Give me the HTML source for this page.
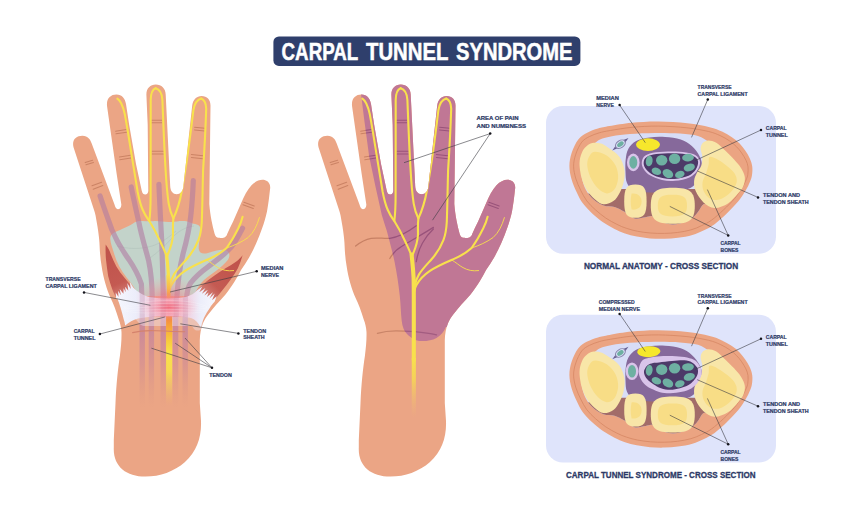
<!DOCTYPE html>
<html lang="en">
<head>
<meta charset="utf-8">
<title>Carpal Tunnel Syndrome</title>
<style>
html,body{margin:0;padding:0;background:#ffffff;}
body{width:854px;height:514px;overflow:hidden;font-family:"Liberation Sans",sans-serif;}
svg{display:block;}
svg text{font-family:"Liberation Sans",sans-serif;font-weight:bold;}
</style>
</head>
<body>
<svg width="854" height="514" viewBox="0 0 854 514">
<defs>

<path id="hand" d="M113.8 440 L115.5 403 C116.2 385 118 368 119.9 356 C121 347 121.7 340 121.5 332 C121.2 327 120.2 323.4 118.9 320 C117.6 316 116.2 311.6 114.8 307.7 C113.4 304.2 112 301 110.5 297.8 C108.6 293.4 106.8 288.8 105.5 284 C103.8 278 102.4 272 101.6 266 C100.6 260.6 100.2 255.4 99.8 250 C99.6 245 99.4 240.6 98.8 236 C98.4 232.6 98 229.4 97.4 226 C96.8 222.6 96.4 220.2 96 218 C95.5 215 95 213 94.2 210.6 L73.6 147.5 C71.5 140 76 135.6 82.5 135.7 C88 135.8 90.3 139.5 91.6 143.3 L114.4 204.3 C115.4 207.6 116.4 209.2 117.9 209.2 C119.6 209.2 121.6 207.6 121.3 204.3 L116.6 173.6 L107.1 106.5 C106 98.5 110.5 94.4 116.4 94.4 C122 94.4 125.2 98.6 126 104 L129.2 125 L136 163.9 L141.7 190.6 C142.4 193.6 143.6 194.6 145.2 194.6 C147 194.6 148.4 193.2 148.3 190.6 L147.7 125 L146.4 95 C146.2 88.5 150.2 84.6 155.8 84.6 C161.5 84.6 165.5 88.5 165.7 94.5 L170.2 186 C170.4 191.2 173 194.2 176.7 194.2 C180.3 194.2 182.8 191.5 183.3 187 L192.2 105.5 C193 99.5 196.6 95.9 201.6 95.9 C207 95.9 210.5 99.6 210.5 105.5 L209.3 204 C209.8 210 210.6 215.6 211.5 220.4 C212.4 225 213.4 229.6 214.6 233.7 C215.4 236.4 216.6 237.6 218.6 237.8 C220.6 238 222.6 237.9 224.4 237.4 C226 236.8 226.8 235.4 227.3 233.7 C229 229.6 231 225.6 233 221.7 L241 203.6 C244 196 247.4 190 251.5 185.3 C256 180.6 261 178.9 265.2 180.2 C269.4 181.6 270.8 185 270 189.6 C269.2 197 268.4 204 267 211.4 C265.6 217.6 264 223 262.3 227.8 C260.4 233.4 258.4 238.6 256.1 243.5 C254 248.4 251.6 253 249.1 257.5 C246.6 261.8 244 265.8 241.2 269.8 C239 273.8 237 277.6 234.6 281.4 C231.6 286 228.6 290.6 225.5 294.6 C222.6 298 219.6 301.2 216.4 304.5 C213.6 307.8 210.8 311 208.2 314.5 C206.2 317.2 204.4 320 203.2 322.7 C202 325.6 201.2 328.2 200.7 331 C200.2 334 199.8 337 199.8 340 L199.8 403 L201 421 C201.6 437 197 451 185 462 C174 471.6 160 476.6 145.4 476.6 C126 476.6 113 466 113.8 447.6 Z"/>
<clipPath id="handclip"><use href="#hand"/></clipPath>
<clipPath id="handclip2"><use href="#hand" transform="translate(245,0)"/></clipPath>
<linearGradient id="tfade" x1="0" y1="298" x2="0" y2="408" gradientUnits="userSpaceOnUse">
 <stop offset="0" stop-color="#b27aa8" stop-opacity="0.7"/><stop offset="0.3" stop-color="#b87aa4" stop-opacity="0.62"/><stop offset="0.6" stop-color="#c4809c" stop-opacity="0.42"/><stop offset="1" stop-color="#d6907f" stop-opacity="0"/>
</linearGradient>
<linearGradient id="nfade" x1="0" y1="314" x2="0" y2="406" gradientUnits="userSpaceOnUse">
 <stop offset="0" stop-color="#f2784e"/><stop offset="0.12" stop-color="#f7a03a"/><stop offset="0.28" stop-color="#f8c83c"/><stop offset="0.42" stop-color="#f9e248"/><stop offset="0.62" stop-color="#f8dc50" stop-opacity="0.95"/><stop offset="0.8" stop-color="#f3c866" stop-opacity="0.6"/><stop offset="1" stop-color="#f0b070" stop-opacity="0"/>
</linearGradient>
<linearGradient id="ngrad" x1="0" y1="274" x2="0" y2="300" gradientUnits="userSpaceOnUse">
 <stop offset="0" stop-color="#f8e14c"/><stop offset="0.55" stop-color="#f9b94a"/><stop offset="1" stop-color="#f47a62"/>
</linearGradient>
<radialGradient id="glow1" cx="0.5" cy="0.5" r="0.5">
 <stop offset="0" stop-color="#f3606e" stop-opacity="0.75"/><stop offset="0.5" stop-color="#f28a92" stop-opacity="0.4"/><stop offset="1" stop-color="#f5a8a8" stop-opacity="0"/>
</radialGradient>
<radialGradient id="glow2" cx="0.5" cy="0.5" r="0.5">
 <stop offset="0" stop-color="#f0566a" stop-opacity="0.75"/><stop offset="0.5" stop-color="#f48ea0" stop-opacity="0.45"/><stop offset="1" stop-color="#f6b6c6" stop-opacity="0"/>
</radialGradient>
<linearGradient id="lig" x1="116" y1="0" x2="215" y2="0" gradientUnits="userSpaceOnUse">
 <stop offset="0" stop-color="#f6f7fe"/><stop offset="0.2" stop-color="#ecedfa"/><stop offset="0.37" stop-color="#f1cbdc"/><stop offset="0.53" stop-color="#f5a9ba"/><stop offset="0.69" stop-color="#f1cbdc"/><stop offset="0.85" stop-color="#ecedfa"/><stop offset="1" stop-color="#f6f7fe"/>
</linearGradient>
<linearGradient id="musL" x1="106" y1="248" x2="126" y2="294" gradientUnits="userSpaceOnUse">
 <stop offset="0" stop-color="#bf524b"/><stop offset="0.75" stop-color="#c45a52"/><stop offset="1" stop-color="#d27c72"/>
</linearGradient>
<linearGradient id="musR" x1="241" y1="258" x2="206" y2="294" gradientUnits="userSpaceOnUse">
 <stop offset="0" stop-color="#bf524b"/><stop offset="0.75" stop-color="#c45a52"/><stop offset="1" stop-color="#d27c72"/>
</linearGradient>

<linearGradient id="nfade2" x1="0" y1="358" x2="0" y2="418" gradientUnits="userSpaceOnUse">
 <stop offset="0" stop-color="#f8e14c"/><stop offset="0.35" stop-color="#f6d654" stop-opacity="0.9"/><stop offset="1" stop-color="#f0b878" stop-opacity="0"/>
</linearGradient>

</defs>
<rect width="854" height="514" fill="#ffffff"/>
<!-- title -->
<rect x="273.4" y="36.4" width="307" height="29.5" rx="5.5" fill="#2f3f6c"/>
<text x="281.6" y="59.5" font-size="23" textLength="76.6" lengthAdjust="spacingAndGlyphs" fill="#ffffff" stroke="#ffffff" stroke-width="0.5">CARPAL</text>
<text x="366" y="59.5" font-size="23" textLength="82.4" lengthAdjust="spacingAndGlyphs" fill="#ffffff" stroke="#ffffff" stroke-width="0.5">TUNNEL</text>
<text x="456" y="59.5" font-size="23" textLength="116.5" lengthAdjust="spacingAndGlyphs" fill="#ffffff" stroke="#ffffff" stroke-width="0.5">SYNDROME</text>
<!-- left hand -->
<use href="#hand" fill="#eba585"/>
<g clip-path="url(#handclip)">
<path d="M85.2 162.6 L92.6 160.2 M86.0 164.79999999999998 L93.39999999999999 162.39999999999998 M92.0 185.8 L101.6 182.2 M93.2 189.20000000000002 L102.8 185.6 M115.6 131.2 L126.2 129.6 M116.0 133.79999999999998 L126.60000000000001 132.2 M119.4 157.0 L130.6 155.2 M119.80000000000001 159.8 L131.0 158.0 M151.0 120.2 L161.8 120.2 M151.0 122.8 L161.8 122.8 M152.0 151.2 L163.4 151.2 M152.0 154.0 L163.4 154.0 M194.6 127.2 L204.6 128.2 M194.6 129.9 L204.6 130.89999999999998 M191.4 154.6 L203.0 155.8 M191.4 157.6 L203.0 158.8 M243.9 202.2 L254.2 206.0 M243.0 204.7 L253.29999999999998 208.5" fill="none" stroke="#cb8365" stroke-width="1.05" stroke-linecap="round" opacity="1"/>
<path d="M133 223.5 C138 219 146 221.8 153 221.2 C160 220.6 164 222.6 171 222 C178 221.4 184 219.8 190 222.4 C195 224.5 199.6 223.6 200.6 228.4 C201.2 235 198.2 243 198.8 249 C199.2 253.4 203 254.4 208 253 C215 251 222 248.6 226.4 250.4 C230 252.2 230.4 256.6 227.4 260.4 C221 268 211 274 204 280 C199.6 284 196.6 289 194 296 L138 296 C136.4 290 132 284 127 278 C121 270.4 116.4 262 114.2 254 C112.4 247.4 109.6 241.4 110.4 237 C111.6 232.4 117 231.6 122 229 C127 226.6 129.6 226 133 223.5 Z" fill="#c3d3ca"/>
<path d="M117 246 C128 249 140 249.6 152 246 C160 243.6 168 238 176 231" fill="none" stroke="#a9bcb4" stroke-width="0.5" opacity="0.8"/>
<path d="M150 258 C158 252 165 246 172 238 C178 231 186 227 194 226" fill="none" stroke="#a9bcb4" stroke-width="0.5" opacity="0.8"/>
<path d="M100.1 196 C104 208 108 219 111.8 229.5 C116.5 241 122 250 128.6 259.1 C134 267 138.5 275 141.4 284 L142 300" fill="none" stroke="#b17ba1" stroke-opacity="0.6" stroke-width="5.2" stroke-linecap="round" stroke-linejoin="round"/>
<path d="M131.2 187 C134 201 137.5 216 140.4 229.5 C143.5 243 146.5 252 148.7 261 C150.6 270 152.2 281 152.2 300" fill="none" stroke="#b17ba1" stroke-opacity="0.6" stroke-width="5.2" stroke-linecap="round" stroke-linejoin="round"/>
<path d="M158.9 184.4 C159.6 200 160.4 218 161.4 234.7 C162.2 255 163 275 163.3 300" fill="none" stroke="#b17ba1" stroke-opacity="0.6" stroke-width="5.2" stroke-linecap="round" stroke-linejoin="round"/>
<path d="M193.3 180.6 C192.8 193 192 205 190.7 216.6 C189 231 186 243 183.4 252.4 C180.6 263 178 278 176.7 300" fill="none" stroke="#b17ba1" stroke-opacity="0.6" stroke-width="5.2" stroke-linecap="round" stroke-linejoin="round"/>
<path d="M242.5 228.2 C239 235 235.4 241.6 230.8 247.6 C224.6 254.4 216.5 260.5 209.2 265.8 C201.6 271.4 195 277 190.6 283 C187.6 287.6 186.6 293 186.6 300" fill="none" stroke="#b17ba1" stroke-opacity="0.6" stroke-width="5.2" stroke-linecap="round" stroke-linejoin="round"/>
<rect x="139.5" y="298" width="5.4" height="112" fill="url(#tfade)"/>
<rect x="148.70000000000002" y="298" width="5.4" height="112" fill="url(#tfade)"/>
<rect x="160.5" y="298" width="5.4" height="112" fill="url(#tfade)"/>
<rect x="172.9" y="298" width="5.4" height="112" fill="url(#tfade)"/>
<rect x="182.5" y="298" width="5.4" height="112" fill="url(#tfade)"/>
<path d="M105.7 244.6 C105.4 250 105.6 255 106 259.8 C106.6 265.6 107.4 271 108.2 276.3 C109.4 281 110.8 285.4 112.3 289.5 C113.4 292.2 114.4 294.6 115.6 297 L124 301 L134.4 292 L132.1 286.2 C129.4 283.6 127 280.8 124.7 278 C121.6 274.2 118.8 270.4 116.4 266.4 C113.8 261.6 111.6 256.6 109.8 251.5 C108.4 248.6 107 246.4 105.7 244.6 Z" fill="url(#musL)"/>
<path d="M242.6 255.3 C241.4 259.8 239.8 264 237.9 268.2 C235.6 272.4 233.2 276.2 230.5 279.8 C227.8 283.6 225 287.2 222.2 290.5 C219.8 293.6 217.4 296.6 214.8 299.6 L206 303 L195.6 292 L197.4 289.7 C199 288 200.6 286.2 202.4 284.7 C205.8 281.8 209.4 279 213.1 276.4 C217 273.6 221.4 271 225.5 268.2 C229.4 266 233 264 236.3 261.6 C238.6 259.8 240.8 257.6 242.6 255.3 Z" fill="url(#musR)"/>
<path d="M226.6 248 C234 245.6 242 242 248 237.6 C253.6 232.8 257 225.6 259.4 217.6" fill="none" stroke="#f8e14c" stroke-width="0.9" stroke-linecap="round"/>
<path d="M206.8 260 C211 262.4 214 265.4 218 267.6 C222.6 270.2 227.6 271.4 233.6 270.6" fill="none" stroke="#f8e14c" stroke-width="0.9" stroke-linecap="round"/>
<path d="M117.4 98.6 C120.6 100.6 122.8 105.4 124.7 113.8 C127.6 129 130 145 132.5 160.4 C134.4 172 136 182 137.6 191.5 C139.2 200 141 206 142.8 210 C145.2 215.6 147.6 218.6 149.3 221 C153 226.8 156.6 233.6 160 241 C163 247.6 165.6 252.6 166.6 256.4" fill="none" stroke="#f8e14c" stroke-width="2.1" stroke-linecap="round" stroke-linejoin="round"/>
<path d="M155.6 88.2 C152.2 89.4 150.8 93.4 150.7 100 C150.7 132 150.6 165 150.6 196 C150.6 207 150.2 214 149.3 221" fill="none" stroke="#f8e14c" stroke-width="2.1" stroke-linecap="round" stroke-linejoin="round"/>
<path d="M155.6 88.2 C159.6 89.2 162 93.4 162.4 100 C163.4 124 164.2 148 165.6 170 C166.4 184 167.4 195 168.7 203.6 C169.8 210 171.4 214.6 173.4 218.4" fill="none" stroke="#f8e14c" stroke-width="2.1" stroke-linecap="round" stroke-linejoin="round"/>
<path d="M201.2 98.6 C197.2 99.8 194.6 103.4 193.4 110 C191.4 127 189.2 144 186.8 160.4 C185.2 171 183.6 181 181.8 191 C180 201 177 210.6 173.4 218.4 C172.6 225 173 229.6 173 234.7 C172.6 241 170.6 247.6 168.4 252.8 C167.2 255.4 166.8 256.4 166.6 258" fill="none" stroke="#f8e14c" stroke-width="2.1" stroke-linecap="round" stroke-linejoin="round"/>
<path d="M201.2 98.6 C204.4 99.8 206 103.6 206.2 108.6 C205.6 129 204.4 150 203.1 170 C202.6 188 202.4 206 201.8 221.8 C201.4 229 200.4 235 198.5 239.9 C195.6 247.6 191.6 253.6 186.8 259 C182 264.4 177 269.4 173.9 274.6 C171.6 278.4 170.4 282 169.6 286" fill="none" stroke="#f8e14c" stroke-width="2.1" stroke-linecap="round" stroke-linejoin="round"/>
<path d="M242.6 216.8 C241.4 221.6 240.2 224.6 238.6 227.6 C235 235 231 242 226.6 248 C221 253 214.6 256.6 208 259.4 C199.6 263 191.6 266.4 184.6 271.2 C179.6 274.6 174.6 279.6 171.6 284.6 C170.4 286.6 169.8 288.6 169.4 291" fill="none" stroke="#f8e14c" stroke-width="2.1" stroke-linecap="round" stroke-linejoin="round"/>
<path d="M166.6 254.6 C167.4 262 168.2 270 168.6 278 C168.8 286 168.8 294 168.8 302" fill="none" stroke="#f8e14c" stroke-width="3.2" stroke-linecap="round"/>
<ellipse cx="168.6" cy="300" rx="34" ry="24" fill="url(#glow1)"/>
<path d="M168.0 276 C168.5 284 168.7 292 168.7 300" fill="none" stroke="url(#ngrad)" stroke-width="3.4" stroke-linecap="round"/>
<path d="M134 317 L201.5 317 C203 322 203.4 326.4 201.4 329 C199.4 331.4 195.6 331 193.6 328.4 C192.6 326.8 192 326 190.6 326 L146 326 C143 326 141 325.2 139.4 323.4 C138 321.8 136 320 134 317 Z" fill="#efe6f4" opacity="0.42"/>
<rect x="166.1" y="312" width="6" height="96" fill="url(#nfade)"/>
<path d="M132.6 332.6 C140 330.8 148 330.4 156 330.8 C166 331.2 176 331.6 184.6 331.8" fill="none" stroke="#d5826c" stroke-width="1.1" stroke-linecap="round"/>
<path d="M116.0 298.4 L115.7 292.6 L118.5 296.9 L118.1 290.7 L120.9 295.3 L119.7 289.0 L123.4 293.8 L123.6 288.3 L125.8 292.2 L125.1 286.7 L128.3 290.7 L127.3 283.1 L130.7 289.1 L129.9 282.0 L133.2 287.6 C137 291.6 143 295.6 150 297.2 C156 298.2 162 298.4 168.8 298.4 C176 298.4 182 298.2 186.6 296.8 C191 295.6 194.4 293.4 196.8 290.6 L202.3 286.6 L199.3 292.2 L205.4 288.0 L201.9 293.8 L207.8 289.7 L204.4 295.4 L208.6 292.5 L207.0 297.0 L212.9 292.3 L209.5 298.6 L214.7 293.5 L212.1 300.2 L216.7 296.2 L214.6 301.8 C213 303.2 211.4 305.6 209.8 307.9 C207.6 311 205.6 314.4 204 317.8 C202.6 321 201.4 324.4 200.7 327.7 C198.6 323 195.6 319.6 191 318 C184 316.4 176 316.2 168.9 316.2 C158 316.2 146 316.6 138 318.6 C133 320 129 322.4 125.2 325.4 C124.8 323 124.4 321.4 123.9 320 C122.8 315.6 121.8 311.6 120.6 307.7 C119.6 304.4 118.4 301.4 117.3 298.6 Z" fill="url(#lig)"/>
<clipPath id="ligclip"><path d="M116.0 298.4 L115.7 292.6 L118.5 296.9 L118.1 290.7 L120.9 295.3 L119.7 289.0 L123.4 293.8 L123.6 288.3 L125.8 292.2 L125.1 286.7 L128.3 290.7 L127.3 283.1 L130.7 289.1 L129.9 282.0 L133.2 287.6 C137 291.6 143 295.6 150 297.2 C156 298.2 162 298.4 168.8 298.4 C176 298.4 182 298.2 186.6 296.8 C191 295.6 194.4 293.4 196.8 290.6 L202.3 286.6 L199.3 292.2 L205.4 288.0 L201.9 293.8 L207.8 289.7 L204.4 295.4 L208.6 292.5 L207.0 297.0 L212.9 292.3 L209.5 298.6 L214.7 293.5 L212.1 300.2 L216.7 296.2 L214.6 301.8 C213 303.2 211.4 305.6 209.8 307.9 C207.6 311 205.6 314.4 204 317.8 C202.6 321 201.4 324.4 200.7 327.7 C198.6 323 195.6 319.6 191 318 C184 316.4 176 316.2 168.9 316.2 C158 316.2 146 316.6 138 318.6 C133 320 129 322.4 125.2 325.4 C124.8 323 124.4 321.4 123.9 320 C122.8 315.6 121.8 311.6 120.6 307.7 C119.6 304.4 118.4 301.4 117.3 298.6 Z"/></clipPath>
<g clip-path="url(#ligclip)" opacity="0.2"><rect x="139.6" y="284" width="5.2" height="46" fill="#a0608c"/><rect x="149.20000000000002" y="284" width="5.2" height="46" fill="#a0608c"/><rect x="160.6" y="284" width="5.2" height="46" fill="#a0608c"/><rect x="173.6" y="284" width="5.2" height="46" fill="#a0608c"/><rect x="182.8" y="284" width="5.2" height="46" fill="#a0608c"/></g>
<ellipse cx="168.8" cy="307" rx="30" ry="13" fill="url(#glow2)"/>
<path d="M124 306.6 C140 302.1 150 300.6 168.8 300.6 C186 300.6 196 302.1 207 306.6" fill="none" stroke="#ffffff" stroke-width="0.5" opacity="0.45"/>
<path d="M124 307.59999999999997 C140 304.9 150 303.4 168.8 303.4 C186 303.4 196 304.9 207 307.59999999999997" fill="none" stroke="#ffffff" stroke-width="0.5" opacity="0.45"/>
<path d="M124 308.79999999999995 C140 307.9 150 306.4 168.8 306.4 C186 306.4 196 307.9 207 308.79999999999995" fill="none" stroke="#ffffff" stroke-width="0.5" opacity="0.45"/>
<path d="M124 310.0 C140 310.9 150 309.4 168.8 309.4 C186 309.4 196 310.9 207 310.0" fill="none" stroke="#ffffff" stroke-width="0.5" opacity="0.45"/>
<path d="M124 310.8 C140 314.1 150 312.6 168.8 312.6 C186 312.6 196 314.1 207 310.8" fill="none" stroke="#ffffff" stroke-width="0.5" opacity="0.45"/>
</g>
<!-- middle hand -->
<use href="#hand" transform="translate(245,0)" fill="#eba585"/>
<g clip-path="url(#handclip2)">
<g transform="translate(245,0)"><path d="M85.2 162.6 L92.6 160.2 M86.0 164.79999999999998 L93.39999999999999 162.39999999999998 M92.0 185.8 L101.6 182.2 M93.2 189.20000000000002 L102.8 185.6 M115.6 131.2 L126.2 129.6 M116.0 133.79999999999998 L126.60000000000001 132.2 M119.4 157.0 L130.6 155.2 M119.80000000000001 159.8 L131.0 158.0 M151.0 120.2 L161.8 120.2 M151.0 122.8 L161.8 122.8 M152.0 151.2 L163.4 151.2 M152.0 154.0 L163.4 154.0 M194.6 127.2 L204.6 128.2 M194.6 129.9 L204.6 130.89999999999998 M191.4 154.6 L203.0 155.8 M191.4 157.6 L203.0 158.8 M243.9 202.2 L254.2 206.0 M243.0 204.7 L253.29999999999998 208.5" fill="none" stroke="#cb8365" stroke-width="1.05" stroke-linecap="round" opacity="1"/></g>
<path d="M355.6 246 C361 241.6 366 239.2 371.1 238.3 C378 237.4 384 238.8 389.8 238.3 C399 237.2 408 232 416.3 225.8" fill="none" stroke="#c78064" stroke-width="1.3" stroke-linecap="round"/>
<path d="M389.8 258.5 C393 253 397 249 402.3 246 C412 240 423 234 433.4 227.4" fill="none" stroke="#c78064" stroke-width="1.3" stroke-linecap="round"/>
<path d="M416.3 261.6 C417.6 254 419.6 248 422.5 243 C425.6 237.6 429 233 433.4 229" fill="none" stroke="#c78064" stroke-width="1.3" stroke-linecap="round"/>
<path d="M377.4 333.3 C383 331.6 389 330.8 396 330.8 C402 330.8 408 331.2 414.7 331.7 C422 332.4 430 333.4 436.5 334.8" fill="none" stroke="#c98468" stroke-width="1.3" stroke-linecap="round"/>
<clipPath id="purpclip"><path d="M360.8 92 L364 117.9 L369.1 155.9 L375.4 186.3 L381.8 215 C383.6 221 385.2 226 386.7 230.5 C389.6 241 392.4 252 394.5 261.6 C396.8 273 398.6 285 399.8 295.9 C400.8 305 400.8 313 401.7 320.8 C402.4 327 404 331 407 333.9 C411 338 416 341 421 341 C427 341.2 432 340.2 436.5 337.9 C441 335.4 444 331.6 445.9 327 L470 327 L530 260 L530 160 L480 80 L400 70 L360 80 Z"/></clipPath>
<g clip-path="url(#purpclip)">
<rect x="340" y="70" width="200" height="280" fill="#c07795"/>
<g transform="translate(245,0)"><path d="M85.2 162.6 L92.6 160.2 M86.0 164.79999999999998 L93.39999999999999 162.39999999999998 M92.0 185.8 L101.6 182.2 M93.2 189.20000000000002 L102.8 185.6 M115.6 131.2 L126.2 129.6 M116.0 133.79999999999998 L126.60000000000001 132.2 M119.4 157.0 L130.6 155.2 M119.80000000000001 159.8 L131.0 158.0 M151.0 120.2 L161.8 120.2 M151.0 122.8 L161.8 122.8 M152.0 151.2 L163.4 151.2 M152.0 154.0 L163.4 154.0 M194.6 127.2 L204.6 128.2 M194.6 129.9 L204.6 130.89999999999998 M191.4 154.6 L203.0 155.8 M191.4 157.6 L203.0 158.8 M243.9 202.2 L254.2 206.0 M243.0 204.7 L253.29999999999998 208.5" fill="none" stroke="#99537a" stroke-width="1.05" stroke-linecap="round" opacity="1"/></g>
<path d="M355.6 246 C361 241.6 366 239.2 371.1 238.3 C378 237.4 384 238.8 389.8 238.3 C399 237.2 408 232 416.3 225.8" fill="none" stroke="#99537b" stroke-width="1.3" stroke-linecap="round"/>
<path d="M389.8 258.5 C393 253 397 249 402.3 246 C412 240 423 234 433.4 227.4" fill="none" stroke="#99537b" stroke-width="1.3" stroke-linecap="round"/>
<path d="M416.3 261.6 C417.6 254 419.6 248 422.5 243 C425.6 237.6 429 233 433.4 229" fill="none" stroke="#99537b" stroke-width="1.3" stroke-linecap="round"/>
<path d="M377.4 333.3 C383 331.6 389 330.8 396 330.8 C402 330.8 408 331.2 414.7 331.7 C422 332.4 430 333.4 436.5 334.8" fill="none" stroke="#a25c80" stroke-width="1.3" stroke-linecap="round"/>
</g>
<g transform="translate(245,0)">
<path d="M226.6 248 C234 245.6 242 242 248 237.6 C253.6 232.8 257 225.6 259.4 217.6" fill="none" stroke="#f8e14c" stroke-width="0.9" stroke-linecap="round"/>
<path d="M206.8 260 C211 262.4 214 265.4 218 267.6 C222.6 270.2 227.6 271.4 233.6 270.6" fill="none" stroke="#f8e14c" stroke-width="0.9" stroke-linecap="round"/>
<path d="M117.4 98.6 C120.6 100.6 122.8 105.4 124.7 113.8 C127.6 129 130 145 132.5 160.4 C134.4 172 136 182 137.6 191.5 C139.2 200 141 206 142.8 210 C145.2 215.6 147.6 218.6 149.3 221 C153 226.8 156.6 233.6 160 241 C163 247.6 165.6 252.6 166.6 256.4" fill="none" stroke="#f8e14c" stroke-width="2.1" stroke-linecap="round" stroke-linejoin="round"/>
<path d="M155.6 88.2 C152.2 89.4 150.8 93.4 150.7 100 C150.7 132 150.6 165 150.6 196 C150.6 207 150.2 214 149.3 221" fill="none" stroke="#f8e14c" stroke-width="2.1" stroke-linecap="round" stroke-linejoin="round"/>
<path d="M155.6 88.2 C159.6 89.2 162 93.4 162.4 100 C163.4 124 164.2 148 165.6 170 C166.4 184 167.4 195 168.7 203.6 C169.8 210 171.4 214.6 173.4 218.4" fill="none" stroke="#f8e14c" stroke-width="2.1" stroke-linecap="round" stroke-linejoin="round"/>
<path d="M201.2 98.6 C197.2 99.8 194.6 103.4 193.4 110 C191.4 127 189.2 144 186.8 160.4 C185.2 171 183.6 181 181.8 191 C180 201 177 210.6 173.4 218.4 C172.6 225 173 229.6 173 234.7 C172.6 241 170.6 247.6 168.4 252.8 C167.2 255.4 166.8 256.4 166.6 258" fill="none" stroke="#f8e14c" stroke-width="2.1" stroke-linecap="round" stroke-linejoin="round"/>
<path d="M201.2 98.6 C204.4 99.8 206 103.6 206.2 108.6 C205.6 129 204.4 150 203.1 170 C202.6 188 202.4 206 201.8 221.8 C201.4 229 200.4 235 198.5 239.9 C195.6 247.6 191.6 253.6 186.8 259 C182 264.4 177 269.4 173.9 274.6 C171.6 278.4 170.4 282 169.6 286" fill="none" stroke="#f8e14c" stroke-width="2.1" stroke-linecap="round" stroke-linejoin="round"/>
<path d="M242.6 216.8 C241.4 221.6 240.2 224.6 238.6 227.6 C235 235 231 242 226.6 248 C221 253 214.6 256.6 208 259.4 C199.6 263 191.6 266.4 184.6 271.2 C179.6 274.6 174.6 279.6 171.6 284.6 C170.4 286.6 169.8 288.6 169.4 291" fill="none" stroke="#f8e14c" stroke-width="2.1" stroke-linecap="round" stroke-linejoin="round"/>
<path d="M166.6 254.6 C167.4 262 168.2 270 168.6 278 C168.8 286 168.8 294 168.8 302 L168.8 360" fill="none" stroke="#f8e14c" stroke-width="4.1" stroke-linecap="round"/>
<rect x="166.75" y="358" width="4.1" height="60" fill="url(#nfade2)"/>
</g>
</g>
<!-- cross sections -->
<g transform="translate(0,0)">
<rect x="546" y="106" width="230" height="147.7" rx="17" fill="#dfe4fb"/>
<path d="M569.4 166.2 C569.4 161.8 570.2 157.2 571.7 152.8 C573.2 148.4 575.7 142.8 578.3 139.5 C580.9 136.2 583.9 134.6 587.2 132.8 C590.5 131.0 594.3 129.7 598.0 128.6 C601.7 127.5 603.9 127.1 609.5 126.1 C615.1 125.1 623.6 123.6 631.7 122.8 C639.9 122.0 649.1 121.4 658.4 121.5 C667.7 121.6 678.9 122.3 687.4 123.3 C695.9 124.2 703.8 125.8 709.6 127.2 C715.4 128.6 718.3 129.9 722.0 131.6 C725.7 133.3 729.0 135.2 731.9 137.2 C734.8 139.2 737.4 141.4 739.6 143.6 C741.8 145.8 743.5 148.1 745.2 150.6 C746.9 153.1 748.6 155.8 749.8 158.4 C751.0 161.0 751.8 163.4 752.2 166.2 C752.6 169.0 752.4 172.4 752.0 175.0 C751.6 177.6 751.2 178.9 750.1 181.5 C749.0 184.1 747.5 187.5 745.5 190.8 C743.5 194.1 741.2 197.8 738.1 201.5 C735.0 205.2 730.9 209.5 727.0 213.3 C723.1 217.1 718.4 221.4 714.6 224.2 C710.8 227.0 707.7 228.4 704.0 230.2 C700.3 232.0 696.7 233.7 692.4 235.0 C688.1 236.3 682.6 237.2 678.0 237.8 C673.4 238.4 669.2 238.7 664.5 238.8 C659.8 238.9 654.6 238.8 650.0 238.4 C645.4 238.0 640.9 237.3 636.7 236.5 C632.5 235.7 628.7 234.7 625.0 233.4 C621.3 232.1 618.2 230.8 614.5 228.9 C610.8 227.0 606.7 224.8 603.0 222.2 C599.3 219.6 595.5 216.5 592.2 213.4 C588.9 210.3 585.6 207.1 583.0 203.6 C580.4 200.1 578.6 196.2 576.7 192.2 C574.8 188.2 572.8 183.8 571.6 179.5 C570.4 175.2 569.4 170.6 569.4 166.2 Z" fill="#eba482"/>
<path d="M573.6 166.2 C573.6 162.2 574.4 158.2 575.8 154.2 C577.1 150.1 579.5 145.1 581.7 142.2 C584.0 139.2 586.4 138.2 589.3 136.6 C592.2 135.1 595.8 133.9 599.3 132.8 C602.8 131.8 604.8 131.4 610.3 130.5 C615.7 129.6 624.1 128.1 632.1 127.3 C640.1 126.6 649.2 126.0 658.4 126.1 C667.5 126.2 678.5 126.9 686.9 127.8 C695.3 128.7 703.0 130.2 708.6 131.5 C714.1 132.8 716.7 134.1 720.2 135.6 C723.7 137.2 726.7 139.0 729.4 140.8 C732.2 142.7 734.5 144.6 736.5 146.7 C738.6 148.7 740.1 150.8 741.7 153.0 C743.2 155.3 744.9 157.9 745.9 160.1 C747.0 162.4 747.7 164.4 748.0 166.8 C748.3 169.1 748.1 172.2 747.8 174.4 C747.5 176.6 747.1 177.5 746.1 179.9 C745.1 182.2 743.6 185.4 741.7 188.5 C739.7 191.6 737.5 195.0 734.5 198.6 C731.5 202.1 727.5 206.2 723.6 209.8 C719.8 213.4 715.3 217.5 711.6 220.1 C708.0 222.8 705.2 223.9 701.7 225.6 C698.3 227.2 695.0 228.8 690.9 229.9 C686.8 231.1 681.7 231.9 677.3 232.5 C672.9 233.1 668.9 233.3 664.4 233.4 C659.9 233.5 654.9 233.4 650.4 233.0 C646.0 232.7 641.7 232.0 637.7 231.3 C633.8 230.5 630.2 229.6 626.7 228.4 C623.2 227.3 620.3 226.1 616.8 224.3 C613.4 222.6 609.4 220.5 605.8 218.1 C602.3 215.7 598.7 212.7 595.5 209.9 C592.3 207.0 589.2 204.1 586.8 200.9 C584.3 197.6 582.6 194.0 580.7 190.3 C578.9 186.5 576.9 182.3 575.7 178.3 C574.6 174.3 573.6 170.2 573.6 166.2 Z" fill="none" stroke="#d58663" stroke-width="0.8"/>
<clipPath id="cava"><path d="M581.0 170.0 C580.7 166.8 580.4 163.6 580.8 160.5 C581.2 157.4 582.3 154.0 583.6 151.6 C584.9 149.2 586.7 147.3 588.4 146.0 C590.1 144.7 592.1 144.7 594.0 143.6 C595.9 142.5 597.0 140.6 600.0 139.4 C603.0 138.2 607.0 137.1 612.0 136.2 C617.0 135.3 622.8 134.5 630.0 134.0 C637.2 133.5 646.7 133.1 655.0 133.0 C663.3 132.9 672.8 133.1 680.0 133.6 C687.2 134.1 693.2 134.7 698.0 136.0 C702.8 137.3 705.5 140.1 708.5 141.4 C711.5 142.7 713.4 142.3 716.0 144.0 C718.6 145.7 721.5 148.7 724.4 151.4 C727.3 154.1 730.6 157.3 733.2 160.2 C735.8 163.1 738.3 165.8 740.0 168.6 C741.7 171.4 743.3 174.1 743.6 177.0 C743.9 179.9 743.2 183.3 742.0 186.0 C740.8 188.7 739.1 190.5 736.6 193.3 C734.1 196.1 730.7 200.3 727.0 202.6 C723.3 204.8 718.4 206.6 714.6 206.8 C710.8 207.0 707.0 203.4 704.4 204.0 C701.8 204.6 700.6 208.6 699.0 210.6 C697.4 212.6 696.8 214.2 694.6 216.0 C692.4 217.8 689.4 220.2 685.7 221.6 C682.0 223.0 676.8 224.8 672.3 224.6 C667.8 224.4 662.3 222.0 659.0 220.6 C655.7 219.2 654.5 216.8 652.3 216.2 C650.1 215.6 648.6 216.8 645.6 217.2 C642.6 217.6 638.0 219.3 634.5 218.4 C631.0 217.5 627.8 213.7 624.5 211.8 C621.2 209.9 618.0 208.1 614.5 207.0 C611.0 205.9 607.0 206.7 603.4 205.4 C599.8 204.1 595.9 201.6 593.0 199.0 C590.1 196.4 587.8 193.2 586.0 190.0 C584.2 186.8 583.2 183.3 582.4 180.0 C581.6 176.7 581.3 173.2 581.0 170.0 Z"/></clipPath>
<g clip-path="url(#cava)">
<rect x="570" y="125" width="180" height="110" fill="#d8ddf7"/>
<path d="M570 196 C586 194 600 192 618 189 L700 189 C715 190 730 186 750 178 L750 240 L570 240 Z" fill="#a26c69"/>
</g>
<path d="M625.5 172.0 C625.3 168.1 625.2 163.4 625.7 159.5 C626.2 155.6 626.6 151.9 628.4 148.8 C630.1 145.7 632.7 142.9 636.2 141.0 C639.7 139.1 644.7 138.1 649.5 137.4 C654.3 136.7 659.9 136.6 665.1 136.9 C670.3 137.2 676.2 138.0 680.7 139.5 C685.2 141.0 688.6 143.3 691.8 146.1 C694.9 148.9 697.9 152.8 699.6 156.2 C701.3 159.5 702.1 162.7 702.0 166.2 C701.9 169.7 700.7 173.5 699.0 177.0 C697.3 180.5 696.2 184.4 692.0 187.0 C687.8 189.6 681.0 191.7 674.0 192.6 C667.0 193.5 656.7 193.0 650.0 192.6 C643.3 192.2 637.8 191.6 634.0 190.0 C630.2 188.4 628.4 186.0 627.0 183.0 C625.6 180.0 625.7 175.9 625.5 172.0 Z" fill="#86699b"/>
<path d="M593.9 142.8 C596.1 142.5 598.6 142.8 601.0 143.6 C603.4 144.4 604.9 145.2 608.0 147.4 C611.1 149.6 616.7 153.0 619.4 156.7 C622.1 160.4 623.6 165.3 624.4 169.4 C625.1 173.5 624.6 177.2 623.9 181.0 C623.2 184.8 621.8 188.8 620.0 192.2 C618.2 195.5 616.2 199.1 613.4 201.1 C610.6 203.1 606.5 204.6 603.4 204.2 C600.2 203.8 597.3 201.3 594.5 198.9 C591.7 196.5 588.8 193.2 586.7 190.0 C584.7 186.8 583.3 183.3 582.2 180.0 C581.1 176.7 580.4 173.2 580.0 170.0 C579.6 166.8 579.3 163.7 579.7 160.5 C580.1 157.3 581.3 153.6 582.6 151.0 C583.9 148.4 585.7 146.6 587.6 145.2 C589.5 143.8 591.7 143.1 593.9 142.8 Z" fill="#f8e6a8"/><path d="M595.3 151.7 C598.1 151.7 603.3 153.2 606.7 155.5 C610.1 157.8 613.7 161.8 615.6 165.6 C617.5 169.4 618.3 174.2 618.1 178.2 C617.9 182.2 616.2 187.1 614.3 189.6 C612.4 192.1 609.4 193.6 606.7 193.4 C604.0 193.2 600.6 191.1 597.9 188.3 C595.2 185.6 592.1 180.9 590.3 176.9 C588.5 172.9 587.3 167.9 587.2 164.3 C587.1 160.7 588.4 157.6 589.8 155.5 C591.1 153.4 592.5 151.7 595.3 151.7 Z" fill="#f8dd86"/>
<path d="M708.5 140.4 C710.7 140.4 713.5 141.1 716.3 142.8 C719.1 144.5 722.2 147.8 725.2 150.6 C728.2 153.4 731.5 156.6 734.1 159.5 C736.7 162.4 739.2 165.1 741.0 168.0 C742.8 170.9 744.4 174.0 744.8 177.0 C745.2 180.0 744.5 183.2 743.4 186.0 C742.3 188.8 740.6 190.7 738.0 193.6 C735.4 196.5 731.9 201.0 728.0 203.4 C724.1 205.8 718.7 208.1 714.6 207.9 C710.5 207.7 706.6 205.2 703.5 202.4 C700.4 199.6 697.3 194.7 695.7 191.1 C694.1 187.5 693.9 184.0 694.1 181.0 C694.3 178.0 695.6 175.6 696.8 173.0 C698.0 170.4 700.4 168.3 701.3 165.6 C702.2 162.9 702.4 159.5 702.3 156.7 C702.2 153.9 700.5 150.9 700.6 148.6 C700.7 146.3 701.6 144.2 702.9 142.8 C704.2 141.4 706.3 140.4 708.5 140.4 Z" fill="#f8e6a8"/><path d="M709.6 157.0 C711.1 156.2 714.8 158.1 717.6 159.6 C720.4 161.1 723.8 163.5 726.6 165.8 C729.4 168.1 732.9 170.8 734.6 173.6 C736.3 176.4 737.3 179.4 736.6 182.6 C735.9 185.8 733.3 189.8 730.4 192.6 C727.5 195.4 722.8 198.6 719.4 199.6 C716.0 200.6 712.4 199.8 709.8 198.4 C707.2 197.0 704.8 193.6 703.6 190.9 C702.4 188.2 702.2 184.9 702.6 182.0 C703.0 179.1 705.1 176.1 706.1 173.2 C707.1 170.2 708.1 167.0 708.7 164.3 C709.3 161.6 708.1 157.8 709.6 157.0 Z" fill="#f8dd86"/>
<path d="M624.1999999999999 201.2 C624.1999999999999 188.25199999999998 626.664 184.6 635.4 184.6 C644.136 184.6 646.6 188.25199999999998 646.6 201.2 C646.6 214.148 644.136 217.79999999999998 635.4 217.79999999999998 C626.664 217.79999999999998 624.1999999999999 214.148 624.1999999999999 201.2 Z" fill="#f8e6a8"/>
<path d="M631.6 193.6 C637 192.6 641.6 196 641.6 201.6 C641.6 207 637.6 210.4 631.6 209.6 C630.4 204 630.4 199 631.6 193.6 Z" fill="#f8dd86"/>
<path d="M650.8 205.8 C650.8 191.76000000000002 655.64 187.8 672.8 187.8 C689.9599999999999 187.8 694.8 191.76000000000002 694.8 205.8 C694.8 219.84 689.9599999999999 223.8 672.8 223.8 C655.64 223.8 650.8 219.84 650.8 205.8 Z" fill="#f8e6a8"/>
<path d="M657.8 205.6 C657.8 197.176 661.012 194.79999999999998 672.4 194.79999999999998 C683.788 194.79999999999998 687.0 197.176 687.0 205.6 C687.0 214.024 683.788 216.4 672.4 216.4 C661.012 216.4 657.8 214.024 657.8 205.6 Z" fill="#f8dd86"/>
<g transform="translate(620.4,144.2) rotate(-35)"><path d="M-10.2 0.4 L-4 -1.7 L-4 1.9 Z M10.2 -0.4 L4 -1.9 L4 1.7 Z" fill="#675f92"/><ellipse cx="0" cy="0" rx="6" ry="4.1" fill="#8785ab"/><ellipse cx="0" cy="0" rx="4.8" ry="3" fill="#d8ddf7"/><ellipse cx="0" cy="0" rx="3.6" ry="2.2" fill="#6eb0a2"/></g>
<ellipse cx="633.3" cy="162.4" rx="6.3" ry="8.8" fill="#d9c4ea"/><ellipse cx="633.3" cy="162.4" rx="4" ry="6.3" fill="#6eb0a2"/>
<path d="M641.8 162.0 C642.1 159.8 643.0 157.2 645.4 155.6 C647.8 154.0 651.6 152.9 656.0 152.2 C660.4 151.5 667.0 151.4 672.0 151.4 C677.0 151.4 682.1 151.8 686.0 152.4 C689.9 153.0 693.3 153.7 695.6 155.2 C697.9 156.7 699.7 159.0 700.0 161.6 C700.3 164.2 699.2 168.0 697.4 170.6 C695.6 173.2 693.1 175.7 689.4 177.4 C685.7 179.1 679.6 180.4 675.0 180.8 C670.4 181.2 666.1 180.9 662.0 180.0 C657.9 179.1 653.5 177.4 650.4 175.6 C647.3 173.8 645.0 171.3 643.6 169.0 C642.2 166.7 641.5 164.2 641.8 162.0 Z" fill="#d9c4ea"/><path d="M643.7 162.3 C643.9 160.4 644.4 158.5 646.5 157.2 C648.6 155.8 652.0 154.7 656.3 154.1 C660.5 153.4 667.1 153.3 672.0 153.3 C676.9 153.3 681.9 153.7 685.7 154.3 C689.5 154.9 692.5 155.5 694.6 156.8 C696.6 158.0 697.9 159.7 698.1 161.8 C698.3 163.9 697.4 167.2 695.8 169.5 C694.2 171.8 692.1 174.1 688.6 175.7 C685.1 177.2 679.2 178.5 674.8 178.9 C670.5 179.3 666.3 179.0 662.4 178.1 C658.5 177.3 654.2 175.7 651.4 174.0 C648.5 172.3 646.5 169.9 645.2 168.0 C643.9 166.0 643.5 164.1 643.7 162.3 Z" fill="#4c3a68"/>
<ellipse cx="649.2" cy="161.0" rx="3.4" ry="5.4" transform="rotate(8 649.2 161.0)" fill="#6eb0a2"/>
<ellipse cx="661.7" cy="160.2" rx="5.7" ry="5.3" transform="rotate(0 661.7 160.2)" fill="#6eb0a2"/>
<ellipse cx="674.6" cy="158.8" rx="5.7" ry="5.3" transform="rotate(0 674.6 158.8)" fill="#6eb0a2"/>
<ellipse cx="688" cy="157.6" rx="5.9" ry="3.8" transform="rotate(-4 688 157.6)" fill="#6eb0a2"/>
<ellipse cx="689.3" cy="167.5" rx="5.7" ry="3.7" transform="rotate(-16 689.3 167.5)" fill="#6eb0a2"/>
<ellipse cx="679.8" cy="174.4" rx="4.9" ry="3.4" transform="rotate(-18 679.8 174.4)" fill="#6eb0a2"/>
<ellipse cx="667.9" cy="173.6" rx="5.6" ry="4.1" transform="rotate(28 667.9 173.6)" fill="#6eb0a2"/>
<ellipse cx="656.4" cy="171.3" rx="4.9" ry="3.5" transform="rotate(20 656.4 171.3)" fill="#6eb0a2"/>
<ellipse cx="648" cy="144.6" rx="11.9" ry="6.3" fill="#f6e72c"/>
</g><g transform="translate(0,208.8)">
<rect x="546" y="106" width="230" height="147.7" rx="17" fill="#dfe4fb"/>
<path d="M569.4 166.2 C569.4 161.8 570.2 157.2 571.7 152.8 C573.2 148.4 575.7 142.8 578.3 139.5 C580.9 136.2 583.9 134.6 587.2 132.8 C590.5 131.0 594.3 129.7 598.0 128.6 C601.7 127.5 603.9 127.1 609.5 126.1 C615.1 125.1 623.6 123.6 631.7 122.8 C639.9 122.0 649.1 121.4 658.4 121.5 C667.7 121.6 678.9 122.3 687.4 123.3 C695.9 124.2 703.8 125.8 709.6 127.2 C715.4 128.6 718.3 129.9 722.0 131.6 C725.7 133.3 729.0 135.2 731.9 137.2 C734.8 139.2 737.4 141.4 739.6 143.6 C741.8 145.8 743.5 148.1 745.2 150.6 C746.9 153.1 748.6 155.8 749.8 158.4 C751.0 161.0 751.8 163.4 752.2 166.2 C752.6 169.0 752.4 172.4 752.0 175.0 C751.6 177.6 751.2 178.9 750.1 181.5 C749.0 184.1 747.5 187.5 745.5 190.8 C743.5 194.1 741.2 197.8 738.1 201.5 C735.0 205.2 730.9 209.5 727.0 213.3 C723.1 217.1 718.4 221.4 714.6 224.2 C710.8 227.0 707.7 228.4 704.0 230.2 C700.3 232.0 696.7 233.7 692.4 235.0 C688.1 236.3 682.6 237.2 678.0 237.8 C673.4 238.4 669.2 238.7 664.5 238.8 C659.8 238.9 654.6 238.8 650.0 238.4 C645.4 238.0 640.9 237.3 636.7 236.5 C632.5 235.7 628.7 234.7 625.0 233.4 C621.3 232.1 618.2 230.8 614.5 228.9 C610.8 227.0 606.7 224.8 603.0 222.2 C599.3 219.6 595.5 216.5 592.2 213.4 C588.9 210.3 585.6 207.1 583.0 203.6 C580.4 200.1 578.6 196.2 576.7 192.2 C574.8 188.2 572.8 183.8 571.6 179.5 C570.4 175.2 569.4 170.6 569.4 166.2 Z" fill="#eba482"/>
<path d="M573.6 166.2 C573.6 162.2 574.4 158.2 575.8 154.2 C577.1 150.1 579.5 145.1 581.7 142.2 C584.0 139.2 586.4 138.2 589.3 136.6 C592.2 135.1 595.8 133.9 599.3 132.8 C602.8 131.8 604.8 131.4 610.3 130.5 C615.7 129.6 624.1 128.1 632.1 127.3 C640.1 126.6 649.2 126.0 658.4 126.1 C667.5 126.2 678.5 126.9 686.9 127.8 C695.3 128.7 703.0 130.2 708.6 131.5 C714.1 132.8 716.7 134.1 720.2 135.6 C723.7 137.2 726.7 139.0 729.4 140.8 C732.2 142.7 734.5 144.6 736.5 146.7 C738.6 148.7 740.1 150.8 741.7 153.0 C743.2 155.3 744.9 157.9 745.9 160.1 C747.0 162.4 747.7 164.4 748.0 166.8 C748.3 169.1 748.1 172.2 747.8 174.4 C747.5 176.6 747.1 177.5 746.1 179.9 C745.1 182.2 743.6 185.4 741.7 188.5 C739.7 191.6 737.5 195.0 734.5 198.6 C731.5 202.1 727.5 206.2 723.6 209.8 C719.8 213.4 715.3 217.5 711.6 220.1 C708.0 222.8 705.2 223.9 701.7 225.6 C698.3 227.2 695.0 228.8 690.9 229.9 C686.8 231.1 681.7 231.9 677.3 232.5 C672.9 233.1 668.9 233.3 664.4 233.4 C659.9 233.5 654.9 233.4 650.4 233.0 C646.0 232.7 641.7 232.0 637.7 231.3 C633.8 230.5 630.2 229.6 626.7 228.4 C623.2 227.3 620.3 226.1 616.8 224.3 C613.4 222.6 609.4 220.5 605.8 218.1 C602.3 215.7 598.7 212.7 595.5 209.9 C592.3 207.0 589.2 204.1 586.8 200.9 C584.3 197.6 582.6 194.0 580.7 190.3 C578.9 186.5 576.9 182.3 575.7 178.3 C574.6 174.3 573.6 170.2 573.6 166.2 Z" fill="none" stroke="#d58663" stroke-width="0.8"/>
<clipPath id="cavb"><path d="M581.0 170.0 C580.7 166.8 580.4 163.6 580.8 160.5 C581.2 157.4 582.3 154.0 583.6 151.6 C584.9 149.2 586.7 147.3 588.4 146.0 C590.1 144.7 592.1 144.7 594.0 143.6 C595.9 142.5 597.0 140.6 600.0 139.4 C603.0 138.2 607.0 137.1 612.0 136.2 C617.0 135.3 622.8 134.5 630.0 134.0 C637.2 133.5 646.7 133.1 655.0 133.0 C663.3 132.9 672.8 133.1 680.0 133.6 C687.2 134.1 693.2 134.7 698.0 136.0 C702.8 137.3 705.5 140.1 708.5 141.4 C711.5 142.7 713.4 142.3 716.0 144.0 C718.6 145.7 721.5 148.7 724.4 151.4 C727.3 154.1 730.6 157.3 733.2 160.2 C735.8 163.1 738.3 165.8 740.0 168.6 C741.7 171.4 743.3 174.1 743.6 177.0 C743.9 179.9 743.2 183.3 742.0 186.0 C740.8 188.7 739.1 190.5 736.6 193.3 C734.1 196.1 730.7 200.3 727.0 202.6 C723.3 204.8 718.4 206.6 714.6 206.8 C710.8 207.0 707.0 203.4 704.4 204.0 C701.8 204.6 700.6 208.6 699.0 210.6 C697.4 212.6 696.8 214.2 694.6 216.0 C692.4 217.8 689.4 220.2 685.7 221.6 C682.0 223.0 676.8 224.8 672.3 224.6 C667.8 224.4 662.3 222.0 659.0 220.6 C655.7 219.2 654.5 216.8 652.3 216.2 C650.1 215.6 648.6 216.8 645.6 217.2 C642.6 217.6 638.0 219.3 634.5 218.4 C631.0 217.5 627.8 213.7 624.5 211.8 C621.2 209.9 618.0 208.1 614.5 207.0 C611.0 205.9 607.0 206.7 603.4 205.4 C599.8 204.1 595.9 201.6 593.0 199.0 C590.1 196.4 587.8 193.2 586.0 190.0 C584.2 186.8 583.2 183.3 582.4 180.0 C581.6 176.7 581.3 173.2 581.0 170.0 Z"/></clipPath>
<g clip-path="url(#cavb)">
<rect x="570" y="125" width="180" height="110" fill="#d8ddf7"/>
<path d="M570 196 C586 194 600 192 618 189 L700 189 C715 190 730 186 750 178 L750 240 L570 240 Z" fill="#a26c69"/>
</g>
<path d="M625.5 172.0 C625.3 168.1 625.2 163.4 625.7 159.5 C626.2 155.6 626.6 151.9 628.4 148.8 C630.1 145.7 632.7 142.9 636.2 141.0 C639.7 139.1 644.7 138.1 649.5 137.4 C654.3 136.7 659.9 136.6 665.1 136.9 C670.3 137.2 676.2 138.0 680.7 139.5 C685.2 141.0 688.6 143.3 691.8 146.1 C694.9 148.9 697.9 152.8 699.6 156.2 C701.3 159.5 702.1 162.7 702.0 166.2 C701.9 169.7 700.7 173.5 699.0 177.0 C697.3 180.5 696.2 184.4 692.0 187.0 C687.8 189.6 681.0 191.7 674.0 192.6 C667.0 193.5 656.7 193.0 650.0 192.6 C643.3 192.2 637.8 191.6 634.0 190.0 C630.2 188.4 628.4 186.0 627.0 183.0 C625.6 180.0 625.7 175.9 625.5 172.0 Z" fill="#86699b"/>
<path d="M593.9 142.8 C596.1 142.5 598.6 142.8 601.0 143.6 C603.4 144.4 604.9 145.2 608.0 147.4 C611.1 149.6 616.7 153.0 619.4 156.7 C622.1 160.4 623.6 165.3 624.4 169.4 C625.1 173.5 624.6 177.2 623.9 181.0 C623.2 184.8 621.8 188.8 620.0 192.2 C618.2 195.5 616.2 199.1 613.4 201.1 C610.6 203.1 606.5 204.6 603.4 204.2 C600.2 203.8 597.3 201.3 594.5 198.9 C591.7 196.5 588.8 193.2 586.7 190.0 C584.7 186.8 583.3 183.3 582.2 180.0 C581.1 176.7 580.4 173.2 580.0 170.0 C579.6 166.8 579.3 163.7 579.7 160.5 C580.1 157.3 581.3 153.6 582.6 151.0 C583.9 148.4 585.7 146.6 587.6 145.2 C589.5 143.8 591.7 143.1 593.9 142.8 Z" fill="#f8e6a8"/><path d="M595.3 151.7 C598.1 151.7 603.3 153.2 606.7 155.5 C610.1 157.8 613.7 161.8 615.6 165.6 C617.5 169.4 618.3 174.2 618.1 178.2 C617.9 182.2 616.2 187.1 614.3 189.6 C612.4 192.1 609.4 193.6 606.7 193.4 C604.0 193.2 600.6 191.1 597.9 188.3 C595.2 185.6 592.1 180.9 590.3 176.9 C588.5 172.9 587.3 167.9 587.2 164.3 C587.1 160.7 588.4 157.6 589.8 155.5 C591.1 153.4 592.5 151.7 595.3 151.7 Z" fill="#f8dd86"/>
<path d="M708.5 140.4 C710.7 140.4 713.5 141.1 716.3 142.8 C719.1 144.5 722.2 147.8 725.2 150.6 C728.2 153.4 731.5 156.6 734.1 159.5 C736.7 162.4 739.2 165.1 741.0 168.0 C742.8 170.9 744.4 174.0 744.8 177.0 C745.2 180.0 744.5 183.2 743.4 186.0 C742.3 188.8 740.6 190.7 738.0 193.6 C735.4 196.5 731.9 201.0 728.0 203.4 C724.1 205.8 718.7 208.1 714.6 207.9 C710.5 207.7 706.6 205.2 703.5 202.4 C700.4 199.6 697.3 194.7 695.7 191.1 C694.1 187.5 693.9 184.0 694.1 181.0 C694.3 178.0 695.6 175.6 696.8 173.0 C698.0 170.4 700.4 168.3 701.3 165.6 C702.2 162.9 702.4 159.5 702.3 156.7 C702.2 153.9 700.5 150.9 700.6 148.6 C700.7 146.3 701.6 144.2 702.9 142.8 C704.2 141.4 706.3 140.4 708.5 140.4 Z" fill="#f8e6a8"/><path d="M709.6 157.0 C711.1 156.2 714.8 158.1 717.6 159.6 C720.4 161.1 723.8 163.5 726.6 165.8 C729.4 168.1 732.9 170.8 734.6 173.6 C736.3 176.4 737.3 179.4 736.6 182.6 C735.9 185.8 733.3 189.8 730.4 192.6 C727.5 195.4 722.8 198.6 719.4 199.6 C716.0 200.6 712.4 199.8 709.8 198.4 C707.2 197.0 704.8 193.6 703.6 190.9 C702.4 188.2 702.2 184.9 702.6 182.0 C703.0 179.1 705.1 176.1 706.1 173.2 C707.1 170.2 708.1 167.0 708.7 164.3 C709.3 161.6 708.1 157.8 709.6 157.0 Z" fill="#f8dd86"/>
<path d="M624.1999999999999 201.2 C624.1999999999999 188.25199999999998 626.664 184.6 635.4 184.6 C644.136 184.6 646.6 188.25199999999998 646.6 201.2 C646.6 214.148 644.136 217.79999999999998 635.4 217.79999999999998 C626.664 217.79999999999998 624.1999999999999 214.148 624.1999999999999 201.2 Z" fill="#f8e6a8"/>
<path d="M631.6 193.6 C637 192.6 641.6 196 641.6 201.6 C641.6 207 637.6 210.4 631.6 209.6 C630.4 204 630.4 199 631.6 193.6 Z" fill="#f8dd86"/>
<path d="M650.8 205.8 C650.8 191.76000000000002 655.64 187.8 672.8 187.8 C689.9599999999999 187.8 694.8 191.76000000000002 694.8 205.8 C694.8 219.84 689.9599999999999 223.8 672.8 223.8 C655.64 223.8 650.8 219.84 650.8 205.8 Z" fill="#f8e6a8"/>
<path d="M657.8 205.6 C657.8 197.176 661.012 194.79999999999998 672.4 194.79999999999998 C683.788 194.79999999999998 687.0 197.176 687.0 205.6 C687.0 214.024 683.788 216.4 672.4 216.4 C661.012 216.4 657.8 214.024 657.8 205.6 Z" fill="#f8dd86"/>
<g transform="translate(620.4,144.2) rotate(-35)"><path d="M-10.2 0.4 L-4 -1.7 L-4 1.9 Z M10.2 -0.4 L4 -1.9 L4 1.7 Z" fill="#675f92"/><ellipse cx="0" cy="0" rx="6" ry="4.1" fill="#8785ab"/><ellipse cx="0" cy="0" rx="4.8" ry="3" fill="#d8ddf7"/><ellipse cx="0" cy="0" rx="3.6" ry="2.2" fill="#6eb0a2"/></g>
<ellipse cx="632.0" cy="162.4" rx="6.3" ry="8.8" fill="#d9c4ea"/><ellipse cx="632.0" cy="162.4" rx="4" ry="6.3" fill="#6eb0a2"/>
<path d="M638.6 162.0 C638.7 160.0 639.2 157.5 640.0 155.6 C640.8 153.7 641.6 152.0 643.6 150.8 C645.6 149.6 648.7 149.0 652.0 148.4 C655.3 147.8 659.2 147.5 663.2 147.3 C667.2 147.1 672.0 147.2 676.0 147.4 C680.0 147.6 683.8 147.9 687.1 148.7 C690.4 149.5 693.4 150.4 695.6 152.0 C697.8 153.6 699.5 156.7 700.5 158.5 C701.5 160.3 701.5 161.6 701.6 163.0 C701.7 164.4 701.8 165.3 701.2 167.0 C700.6 168.7 699.6 171.3 698.0 173.4 C696.4 175.5 694.0 178.0 691.3 179.6 C688.6 181.2 685.5 182.2 682.0 183.0 C678.5 183.8 674.0 184.4 670.3 184.5 C666.6 184.6 663.0 184.1 660.0 183.4 C657.0 182.7 654.3 181.4 652.0 180.3 C649.7 179.2 647.6 177.9 646.0 176.6 C644.4 175.3 643.3 174.1 642.2 172.6 C641.1 171.1 640.2 169.4 639.6 167.6 C639.0 165.8 638.5 164.0 638.6 162.0 Z" fill="#d9c4ea"/><path d="M644.3 161.3 C644.9 159.9 646.1 157.6 647.6 156.4 C649.1 155.2 651.1 154.7 653.0 154.2 C654.9 153.7 655.8 153.9 659.0 153.6 C662.2 153.3 667.8 152.5 672.0 152.2 C676.2 151.8 681.0 151.3 684.3 151.5 C687.6 151.7 689.9 152.4 692.0 153.6 C694.1 154.8 696.0 156.9 697.0 158.5 C698.0 160.1 698.0 161.6 698.0 163.0 C698.0 164.4 697.7 165.5 697.0 167.0 C696.3 168.5 695.0 170.5 693.6 172.0 C692.2 173.5 690.8 174.9 688.5 176.1 C686.2 177.3 683.0 178.6 680.0 179.4 C677.0 180.2 673.5 181.0 670.3 181.0 C667.1 181.0 663.8 180.3 661.0 179.4 C658.2 178.5 655.5 176.7 653.4 175.4 C651.3 174.1 649.7 172.8 648.4 171.6 C647.1 170.4 646.4 169.5 645.7 168.4 C645.0 167.3 644.4 166.2 644.2 165.0 C644.0 163.8 643.7 162.7 644.3 161.3 Z" fill="#4c3a68"/>
<ellipse cx="649.2" cy="161.6" rx="3.4" ry="5.4" transform="rotate(8 649.2 161.6)" fill="#6eb0a2"/>
<ellipse cx="661.7" cy="160.79999999999998" rx="5.7" ry="5.3" transform="rotate(0 661.7 160.79999999999998)" fill="#6eb0a2"/>
<ellipse cx="674.6" cy="159.4" rx="5.7" ry="5.3" transform="rotate(0 674.6 159.4)" fill="#6eb0a2"/>
<ellipse cx="688" cy="158.2" rx="5.9" ry="3.8" transform="rotate(-4 688 158.2)" fill="#6eb0a2"/>
<ellipse cx="689.3" cy="168.1" rx="5.7" ry="3.7" transform="rotate(-16 689.3 168.1)" fill="#6eb0a2"/>
<ellipse cx="679.8" cy="175.0" rx="4.9" ry="3.4" transform="rotate(-18 679.8 175.0)" fill="#6eb0a2"/>
<ellipse cx="667.9" cy="174.2" rx="5.6" ry="4.1" transform="rotate(28 667.9 174.2)" fill="#6eb0a2"/>
<ellipse cx="656.4" cy="171.9" rx="4.9" ry="3.5" transform="rotate(20 656.4 171.9)" fill="#6eb0a2"/>
<ellipse cx="648.8" cy="142.9" rx="11.6" ry="5.5" transform="rotate(-2 648.8 142.9)" fill="#f6e72c"/>
</g>
<!-- labels -->
<text x="45.5" y="281.3" font-size="5.9" textLength="35.2" lengthAdjust="spacingAndGlyphs" fill="#2c3966" stroke="#2c3966" stroke-width="0.22">TRANSVERSE</text>
<text x="45.5" y="288" font-size="5.9" textLength="51.3" lengthAdjust="spacingAndGlyphs" fill="#2c3966" stroke="#2c3966" stroke-width="0.22">CARPAL LIGAMENT</text>
<line x1="84" y1="292.4" x2="150.4" y2="305.3" stroke="#3a3a42" stroke-width="0.6"/>
<circle cx="84" cy="292.4" r="1.25" fill="#15151c"/>
<text x="73.7" y="332.8" font-size="5.9" textLength="20.8" lengthAdjust="spacingAndGlyphs" fill="#2c3966" stroke="#2c3966" stroke-width="0.22">CARPAL</text>
<text x="73.7" y="339.5" font-size="5.9" textLength="21.8" lengthAdjust="spacingAndGlyphs" fill="#2c3966" stroke="#2c3966" stroke-width="0.22">TUNNEL</text>
<line x1="99.9" y1="334" x2="164.8" y2="317" stroke="#3a3a42" stroke-width="0.6"/>
<circle cx="99.9" cy="334" r="1.25" fill="#15151c"/>
<text x="261" y="270.2" font-size="5.9" textLength="22.5" lengthAdjust="spacingAndGlyphs" fill="#2c3966" stroke="#2c3966" stroke-width="0.22">MEDIAN</text>
<text x="261" y="276.9" font-size="5.9" textLength="18" lengthAdjust="spacingAndGlyphs" fill="#2c3966" stroke="#2c3966" stroke-width="0.22">NERVE</text>
<line x1="256.7" y1="271.3" x2="170" y2="292" stroke="#3a3a42" stroke-width="0.6"/>
<circle cx="256.7" cy="271.3" r="1.25" fill="#15151c"/>
<text x="243.2" y="332.7" font-size="5.9" textLength="23" lengthAdjust="spacingAndGlyphs" fill="#2c3966" stroke="#2c3966" stroke-width="0.22">TENDON</text>
<text x="243.2" y="339.3" font-size="5.9" textLength="21.5" lengthAdjust="spacingAndGlyphs" fill="#2c3966" stroke="#2c3966" stroke-width="0.22">SHEATH</text>
<line x1="238.4" y1="333.4" x2="180.3" y2="323.8" stroke="#3a3a42" stroke-width="0.6"/>
<circle cx="238.4" cy="333.4" r="1.25" fill="#15151c"/>
<text x="209.3" y="377.1" font-size="5.9" textLength="22.5" lengthAdjust="spacingAndGlyphs" fill="#2c3966" stroke="#2c3966" stroke-width="0.22">TENDON</text>
<line x1="212" y1="367.8" x2="151.4" y2="348.2" stroke="#3a3a42" stroke-width="0.6"/>
<line x1="212" y1="367.8" x2="175.2" y2="343.2" stroke="#3a3a42" stroke-width="0.6"/>
<line x1="212" y1="367.8" x2="185" y2="338" stroke="#3a3a42" stroke-width="0.6"/>
<circle cx="212" cy="367.8" r="1.25" fill="#15151c"/>
<text x="476.5" y="120.3" font-size="5.9" textLength="42" lengthAdjust="spacingAndGlyphs" fill="#2c3966" stroke="#2c3966" stroke-width="0.22">AREA OF PAIN</text>
<text x="476.5" y="127.9" font-size="5.9" textLength="49.5" lengthAdjust="spacingAndGlyphs" fill="#2c3966" stroke="#2c3966" stroke-width="0.22">AND NUMBNESS</text>
<line x1="490.2" y1="133.6" x2="404" y2="162.7" stroke="#3a3a42" stroke-width="0.6"/>
<line x1="490.2" y1="133.6" x2="432.5" y2="220.2" stroke="#3a3a42" stroke-width="0.6"/>
<circle cx="490.2" cy="133.6" r="1.25" fill="#15151c"/>
<text x="596.3" y="99.9" font-size="5.9" textLength="22.5" lengthAdjust="spacingAndGlyphs" fill="#2c3966" stroke="#2c3966" stroke-width="0.22">MEDIAN</text>
<text x="596.3" y="106.5" font-size="5.9" textLength="17.5" lengthAdjust="spacingAndGlyphs" fill="#2c3966" stroke="#2c3966" stroke-width="0.22">NERVE</text>
<line x1="619.6" y1="105.1" x2="645.3" y2="142.7" stroke="#3a3a42" stroke-width="0.6"/>
<circle cx="619.6" cy="105.1" r="1.25" fill="#15151c"/>
<text x="697.6" y="88.7" font-size="5.9" textLength="34" lengthAdjust="spacingAndGlyphs" fill="#2c3966" stroke="#2c3966" stroke-width="0.22">TRANSVERSE</text>
<text x="697.6" y="95.6" font-size="5.9" textLength="50" lengthAdjust="spacingAndGlyphs" fill="#2c3966" stroke="#2c3966" stroke-width="0.22">CARPAL LIGAMENT</text>
<line x1="707.8" y1="99.4" x2="691.5" y2="137.4" stroke="#3a3a42" stroke-width="0.6"/>
<circle cx="707.8" cy="99.4" r="1.25" fill="#15151c"/>
<text x="765.8" y="130.4" font-size="5.9" textLength="20.8" lengthAdjust="spacingAndGlyphs" fill="#2c3966" stroke="#2c3966" stroke-width="0.22">CARPAL</text>
<text x="765.8" y="137" font-size="5.9" textLength="22" lengthAdjust="spacingAndGlyphs" fill="#2c3966" stroke="#2c3966" stroke-width="0.22">TUNNEL</text>
<line x1="761" y1="130" x2="695.2" y2="160.6" stroke="#3a3a42" stroke-width="0.6"/>
<circle cx="761" cy="130" r="1.25" fill="#15151c"/>
<text x="763" y="197.4" font-size="5.9" textLength="37" lengthAdjust="spacingAndGlyphs" fill="#2c3966" stroke="#2c3966" stroke-width="0.22">TENDON AND</text>
<text x="763" y="204.3" font-size="5.9" textLength="45.7" lengthAdjust="spacingAndGlyphs" fill="#2c3966" stroke="#2c3966" stroke-width="0.22">TENDON SHEATH</text>
<line x1="758" y1="197.4" x2="697.2" y2="170.9" stroke="#3a3a42" stroke-width="0.6"/>
<circle cx="758" cy="197.4" r="1.25" fill="#15151c"/>
<text x="720.5" y="244.8" font-size="5.9" textLength="20" lengthAdjust="spacingAndGlyphs" fill="#2c3966" stroke="#2c3966" stroke-width="0.22">CARPAL</text>
<text x="720.5" y="251.7" font-size="5.9" textLength="18" lengthAdjust="spacingAndGlyphs" fill="#2c3966" stroke="#2c3966" stroke-width="0.22">BONES</text>
<line x1="728.2" y1="235.4" x2="669.8" y2="206.4" stroke="#3a3a42" stroke-width="0.6"/>
<line x1="728.2" y1="235.4" x2="707.4" y2="189.6" stroke="#3a3a42" stroke-width="0.6"/>
<circle cx="728.2" cy="235.4" r="1.25" fill="#15151c"/>
<text x="598.8" y="303.9" font-size="5.9" textLength="35.9" lengthAdjust="spacingAndGlyphs" fill="#2c3966" stroke="#2c3966" stroke-width="0.22">COMPRESSED</text>
<text x="598.8" y="310.7" font-size="5.9" textLength="41.2" lengthAdjust="spacingAndGlyphs" fill="#2c3966" stroke="#2c3966" stroke-width="0.22">MEDIAN NERVE</text>
<line x1="619.6" y1="313.9" x2="645.3" y2="351.5" stroke="#3a3a42" stroke-width="0.6"/>
<circle cx="619.6" cy="313.9" r="1.25" fill="#15151c"/>
<text x="697.6" y="297.5" font-size="5.9" textLength="34" lengthAdjust="spacingAndGlyphs" fill="#2c3966" stroke="#2c3966" stroke-width="0.22">TRANSVERSE</text>
<text x="697.6" y="304.4" font-size="5.9" textLength="50" lengthAdjust="spacingAndGlyphs" fill="#2c3966" stroke="#2c3966" stroke-width="0.22">CARPAL LIGAMENT</text>
<line x1="707.8" y1="308.20000000000005" x2="691.5" y2="346.20000000000005" stroke="#3a3a42" stroke-width="0.6"/>
<circle cx="707.8" cy="308.20000000000005" r="1.25" fill="#15151c"/>
<text x="765.8" y="339.20000000000005" font-size="5.9" textLength="20.8" lengthAdjust="spacingAndGlyphs" fill="#2c3966" stroke="#2c3966" stroke-width="0.22">CARPAL</text>
<text x="765.8" y="345.8" font-size="5.9" textLength="22" lengthAdjust="spacingAndGlyphs" fill="#2c3966" stroke="#2c3966" stroke-width="0.22">TUNNEL</text>
<line x1="761" y1="338.8" x2="695.2" y2="369.4" stroke="#3a3a42" stroke-width="0.6"/>
<circle cx="761" cy="338.8" r="1.25" fill="#15151c"/>
<text x="763" y="406.20000000000005" font-size="5.9" textLength="37" lengthAdjust="spacingAndGlyphs" fill="#2c3966" stroke="#2c3966" stroke-width="0.22">TENDON AND</text>
<text x="763" y="413.1" font-size="5.9" textLength="45.7" lengthAdjust="spacingAndGlyphs" fill="#2c3966" stroke="#2c3966" stroke-width="0.22">TENDON SHEATH</text>
<line x1="758" y1="406.20000000000005" x2="697.2" y2="379.70000000000005" stroke="#3a3a42" stroke-width="0.6"/>
<circle cx="758" cy="406.20000000000005" r="1.25" fill="#15151c"/>
<text x="720.5" y="453.6" font-size="5.9" textLength="20" lengthAdjust="spacingAndGlyphs" fill="#2c3966" stroke="#2c3966" stroke-width="0.22">CARPAL</text>
<text x="720.5" y="460.5" font-size="5.9" textLength="18" lengthAdjust="spacingAndGlyphs" fill="#2c3966" stroke="#2c3966" stroke-width="0.22">BONES</text>
<line x1="728.2" y1="444.20000000000005" x2="669.8" y2="415.20000000000005" stroke="#3a3a42" stroke-width="0.6"/>
<line x1="728.2" y1="444.20000000000005" x2="707.4" y2="398.4" stroke="#3a3a42" stroke-width="0.6"/>
<circle cx="728.2" cy="444.20000000000005" r="1.25" fill="#15151c"/>
<text x="583.9" y="268.9" font-size="9.3" textLength="154.3" lengthAdjust="spacingAndGlyphs" fill="#2c3966" stroke="#2c3966" stroke-width="0.3">NORMAL ANATOMY - CROSS SECTION</text>
<text x="566" y="477.9" font-size="9.3" textLength="189.6" lengthAdjust="spacingAndGlyphs" fill="#2c3966" stroke="#2c3966" stroke-width="0.3">CARPAL TUNNEL SYNDROME - CROSS SECTION</text>
</svg>
</body>
</html>
